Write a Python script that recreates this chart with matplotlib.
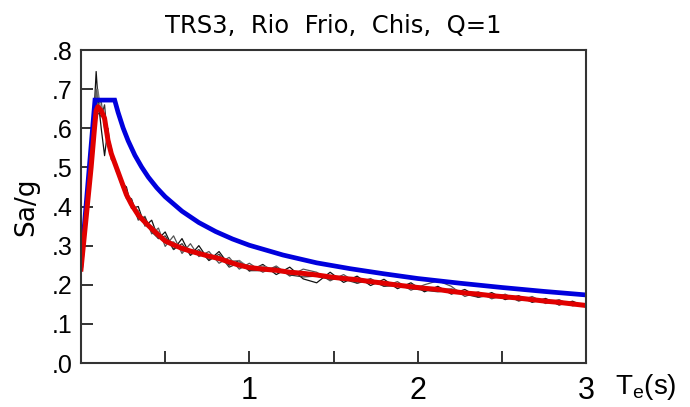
import matplotlib
matplotlib.use("Agg")
import matplotlib.pyplot as plt

plt.rcParams['mathtext.fontset'] = 'custom'
plt.rcParams['mathtext.rm'] = 'Liberation Sans'

# espectro de diseño (Q=1)
T_design = [0.0, 0.083, 0.2, 0.22, 0.25, 0.28, 0.32, 0.36, 0.40, 0.45, 0.50,
            0.6, 0.7, 0.8, 0.9, 1.0, 1.2, 1.4, 1.6, 1.8, 2.0, 2.25, 2.5, 2.75, 3.0]
Sa_design = [0.25, 0.672, 0.672, 0.641, 0.601, 0.568, 0.531, 0.501, 0.475, 0.448, 0.425,
             0.388, 0.359, 0.336, 0.317, 0.301, 0.276, 0.256, 0.241, 0.228, 0.216,
             0.204, 0.193, 0.183, 0.174]

# periodos de los registros
T_rec = [0.0, 0.03, 0.06, 0.08, 0.09, 0.10, 0.12, 0.14, 0.16, 0.18, 0.21, 0.24, 0.27,
         0.30, 0.34, 0.38, 0.42, 0.46, 0.50, 0.55, 0.60, 0.65, 0.70, 0.76, 0.82, 0.88,
         0.94, 1.00, 1.08, 1.16, 1.24, 1.32, 1.40, 1.48, 1.56, 1.64, 1.72, 1.80, 1.88,
         1.96, 2.04, 2.12, 2.20, 2.28, 2.36, 2.44, 2.52, 2.60, 2.68, 2.76, 2.84, 2.92, 3.00]

rec1 = [0.23, 0.38, 0.52, 0.66, 0.745, 0.68, 0.60, 0.53, 0.60, 0.52, 0.51, 0.46,
        0.45, 0.395, 0.40, 0.35, 0.365, 0.318, 0.335, 0.29, 0.318, 0.275, 0.30, 0.262,
        0.285, 0.25, 0.262, 0.235, 0.252, 0.226, 0.245, 0.215, 0.205, 0.232, 0.206, 0.222,
        0.198, 0.214, 0.19, 0.205, 0.182, 0.196, 0.176, 0.188, 0.168, 0.18, 0.162, 0.172,
        0.155, 0.165, 0.148, 0.158, 0.143]
rec2 = [0.25, 0.36, 0.48, 0.62, 0.70, 0.66, 0.67, 0.60, 0.58, 0.55, 0.49, 0.47,
        0.42, 0.418, 0.365, 0.375, 0.33, 0.345, 0.298, 0.325, 0.28, 0.305, 0.272, 0.285,
        0.255, 0.27, 0.24, 0.255, 0.232, 0.248, 0.222, 0.24, 0.232, 0.21, 0.226, 0.204,
        0.216, 0.196, 0.208, 0.186, 0.2, 0.21, 0.196, 0.17, 0.182, 0.164, 0.176, 0.158,
        0.17, 0.152, 0.162, 0.146, 0.152]
rec3 = [0.24, 0.37, 0.50, 0.58, 0.62, 0.64, 0.63, 0.66, 0.56, 0.54, 0.495, 0.455,
        0.425, 0.42, 0.368, 0.372, 0.335, 0.318, 0.325, 0.29, 0.305, 0.276, 0.29, 0.262,
        0.278, 0.245, 0.256, 0.236, 0.236, 0.244, 0.225, 0.22, 0.222, 0.214, 0.214, 0.204,
        0.212, 0.196, 0.198, 0.19, 0.186, 0.182, 0.186, 0.176, 0.168, 0.174, 0.172, 0.16,
        0.16, 0.162, 0.15, 0.152, 0.148]
rec4 = [0.245, 0.36, 0.49, 0.60, 0.66, 0.70, 0.64, 0.63, 0.58, 0.53, 0.505, 0.47,
        0.435, 0.398, 0.39, 0.352, 0.35, 0.335, 0.305, 0.31, 0.285, 0.29, 0.284, 0.268,
        0.272, 0.26, 0.262, 0.244, 0.248, 0.238, 0.236, 0.232, 0.222, 0.224, 0.214, 0.216,
        0.206, 0.208, 0.2, 0.2, 0.194, 0.186, 0.19, 0.18, 0.18, 0.17, 0.17, 0.167,
        0.164, 0.158, 0.157, 0.149, 0.146]

# promedio
Sa_mean = [0.24, 0.37, 0.50, 0.60, 0.645, 0.655, 0.645, 0.625, 0.57, 0.535, 0.50, 0.465, 0.43,
           0.405, 0.378, 0.36, 0.343, 0.327, 0.312, 0.302, 0.293, 0.286, 0.28, 0.273, 0.267, 0.258,
           0.25, 0.244, 0.24, 0.237, 0.232, 0.229, 0.225, 0.22, 0.216, 0.213, 0.208, 0.204, 0.199,
           0.195, 0.191, 0.188, 0.183, 0.179, 0.176, 0.172, 0.169, 0.166, 0.162, 0.158, 0.155, 0.151, 0.147]

fig = plt.figure(figsize=(6.9, 4.07), dpi=100)
ax = fig.add_axes([0.1174, 0.1081, 0.7319, 0.769])

for r, c in zip([rec1, rec2, rec3, rec4], ['#111111', '#555555', '#333333', '#777777']):
    ax.plot(T_rec, r, color=c, lw=0.9)
ax.plot(T_design, Sa_design, color='#0000dd', lw=3.4, solid_joinstyle='miter')
ax.plot(T_rec, Sa_mean, color='#e00000', lw=3.6)

ax.set_xlim(0, 3)
ax.set_ylim(0, 0.8)
ax.set_xticks([0.5, 1, 1.5, 2, 2.5, 3])
ax.set_xticklabels(['', '1', '', '2', '', '3'], fontfamily='Liberation Sans', fontsize=22)
ax.set_yticks([0, 0.1, 0.2, 0.3, 0.4, 0.5, 0.6, 0.7, 0.8])
ax.set_yticklabels(['.0', '.1', '.2', '.3', '.4', '.5', '.6', '.7', '.8'],
                   fontfamily='Liberation Sans', fontsize=18)
ax.tick_params(direction='in', length=8.5, width=1.4, color='#333333')
ax.tick_params(axis='x', pad=9)
ax.tick_params(axis='y', pad=6)
for s in ax.spines.values():
    s.set_linewidth(1.5)
    s.set_color('#333333')

ax.set_title('TRS3,  Rio  Frio,  Chis,  Q=1', fontsize=17.5, pad=12)
ax.set_ylabel('Sa/g', fontsize=19, labelpad=9)
fig.text(0.891, 0.032, r'T$_{\rm e}$(s)', fontfamily='Liberation Sans', fontsize=20,
         va='baseline')

fig.savefig('out.png', dpi=100)
